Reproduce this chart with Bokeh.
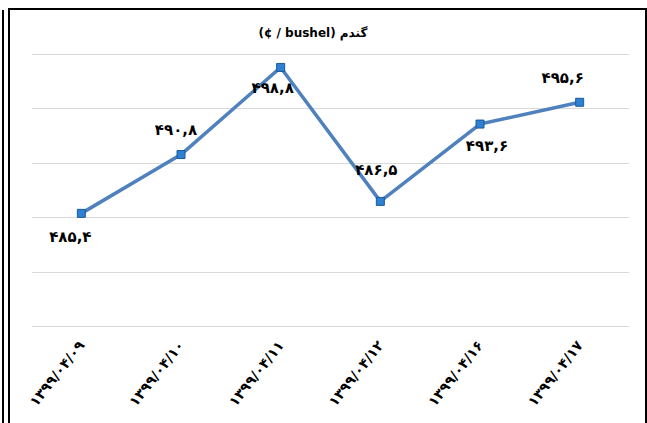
import math
from bokeh.plotting import figure
from bokeh.models import FactorRange, Range1d, ColumnDataSource, SingleIntervalTicker
from bokeh.core.properties import value
from bokeh.embed import file_html
from bokeh.resources import INLINE

# ---- data ----
dates = ["۱۳۹۹/۰۴/۰۹", "۱۳۹۹/۰۴/۱۰", "۱۳۹۹/۰۴/۱۱", "۱۳۹۹/۰۴/۱۲", "۱۳۹۹/۰۴/۱۶", "۱۳۹۹/۰۴/۱۷"]
prices = [485.4, 490.8, 498.8, 486.5, 493.6, 495.6]
price_labels = ["۴۸۵,۴", "۴۹۰,۸", "۴۹۸,۸", "۴۸۶,۵", "۴۹۳,۶", "۴۹۵,۶"]
title_text = "(¢ / bushel) گندم"

# ---- label placement (screen px, styling only) ----
label_dx = [-11, -5, -8, -4, 7, -17]
label_dy = [24, -25, 21, -31, 22, -24]

FONT = "DejaVu Sans"

p = figure(width=635, height=413, x_range=FactorRange(*dates), y_range=Range1d(474.92, 500.08),
           output_backend="svg", toolbar_location=None,
           min_border_left=21, min_border_right=16, min_border_top=42, min_border_bottom=96)
p.margin = (10, 0, 0, 10)
p.styles = {"outline": "2px solid black",
            "box-shadow": "-6px 0 0 0 white, -8px 0 0 0 black"}
p.outline_line_color = None
p.background_fill_color = "white"
p.border_fill_color = "white"

p.title.text = title_text
p.title.align = "left"
p.title.offset = 227
p.title.text_font = FONT
p.title.text_font_style = "bold"
p.title.text_font_size = "12px"
p.title.text_color = "black"
p.title.standoff = 27

p.yaxis.visible = False
p.yaxis.ticker = SingleIntervalTicker(interval=5)
p.ygrid.ticker = SingleIntervalTicker(interval=5)
p.ygrid.grid_line_color = "#d9d9d9"
p.ygrid.grid_line_width = 1
p.xgrid.grid_line_color = None

p.xaxis.axis_line_color = None
p.xaxis.major_tick_line_color = None
p.xaxis.minor_tick_line_color = None
p.xaxis.major_label_orientation = 0.9
p.xaxis.major_label_text_font = FONT
p.xaxis.major_label_text_font_style = "bold"
p.xaxis.major_label_text_font_size = "14px"
p.xaxis.major_label_text_color = "black"
p.xaxis.major_label_standoff = 9

src = ColumnDataSource(dict(x=dates, y=prices, lab=price_labels, dx=label_dx, dy=label_dy))

p.line("x", "y", source=src, line_color="#4f81bd", line_width=3.5)
p.scatter("x", "y", source=src, marker="square", size=8, fill_color="#2f7fd3",
          line_color="#1a5a9a", line_width=1)
p.text("x", "y", text="lab", source=src, x_offset="dx", y_offset="dy",
       text_font=value(FONT), text_font_style="bold", text_font_size="15px",
       text_align="center", text_baseline="middle", text_color="black")

open("out.html", "w").write(file_html(p, INLINE))
